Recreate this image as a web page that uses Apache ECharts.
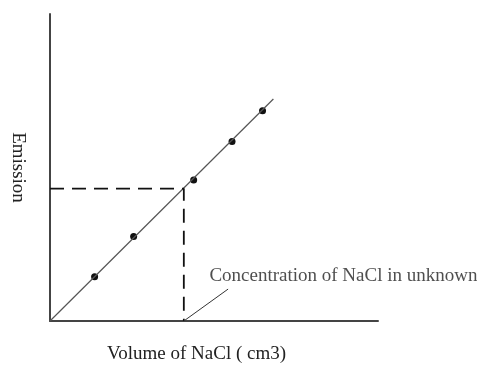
<!DOCTYPE html>
<html>
<head>
<meta charset="utf-8">
<script src="https://cdn.jsdelivr.net/npm/echarts@6/dist/echarts.min.js"></script>
<style>
html,body{margin:0;padding:0;background:#fff;}
#chart{width:477px;height:369px;}
</style>
</head>
<body>
<div id="chart"></div>
<script>
// Data (arbitrary units)
var pointsX = [1.36, 2.55, 4.38, 5.55, 6.48];
var pointsY = [1.44, 2.75, 4.59, 5.85, 6.85];
var fitX = [0, 6.81];
var fitY = [0, 7.23];
var unknownX = 4.08;
var unknownY = 4.31;
var leaderX = [4.08, 5.43];
var leaderY = [0, 1.04];
var annotationText = 'Concentration of NaCl in unknown';
var annotationPos = [4.86, 1.48];
var xName = 'Volume of NaCl ( cm3)';
var yName = 'Emission';

function zip(a, b) { return a.map(function (v, i) { return [v, b[i]]; }); }

var chart = echarts.init(document.getElementById('chart'));
var font = 'Liberation Serif';
chart.setOption({
  animation: false,
  backgroundColor: '#fff',
  grid: { left: 49, right: 99, top: 14, bottom: 43 },
  xAxis: {
    type: 'value', min: 0, max: 10,
    axisLine: { show: true, lineStyle: { color: '#444', width: 2 } },
    axisTick: { show: false }, axisLabel: { show: false }, splitLine: { show: false },
    name: xName, nameLocation: 'middle', nameGap: 24,
    nameTextStyle: { fontFamily: font, fontSize: 19, color: '#222', padding: [0, 35, 0, 0] }
  },
  yAxis: {
    type: 'value', min: 0, max: 10,
    axisLine: { show: true, lineStyle: { color: '#444', width: 2 } },
    axisTick: { show: false }, axisLabel: { show: false }, splitLine: { show: false },
    name: yName, nameLocation: 'middle', nameGap: 23, nameRotate: -90,
    nameTextStyle: { fontFamily: font, fontSize: 19, color: '#222' }
  },
  series: [
    {
      type: 'line', data: zip(fitX, fitY), showSymbol: false, silent: true,
      lineStyle: { color: '#555', width: 1.2 }
    },
    {
      type: 'line', showSymbol: false, silent: true,
      data: [[0, unknownY], [unknownX, unknownY], [unknownX, 0]],
      lineStyle: { color: '#111', width: 1.8, type: [14, 8] }
    },
    {
      type: 'line', data: zip(leaderX, leaderY), showSymbol: false, silent: true,
      lineStyle: { color: '#333', width: 1 }
    },
    {
      type: 'scatter', data: zip(pointsX, pointsY), symbolSize: 7,
      itemStyle: { color: '#111', opacity: 1 }
    },
    {
      type: 'scatter', data: [annotationPos], symbolSize: 0,
      label: {
        show: true, position: 'right', distance: 0,
        formatter: annotationText,
        fontFamily: font, fontSize: 19, color: '#222'
      }
    }
  ]
});
</script>
</body>
</html>
